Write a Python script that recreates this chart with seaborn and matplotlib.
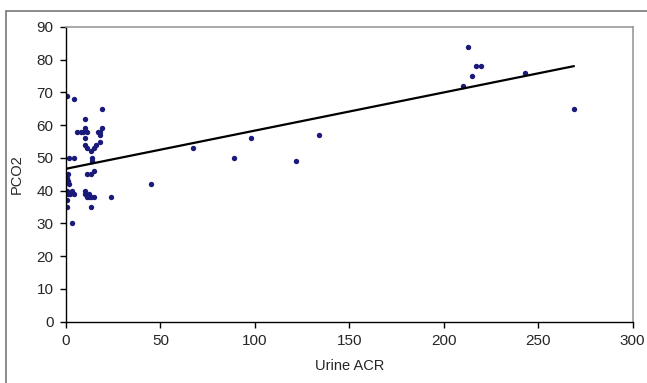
import matplotlib
matplotlib.use("Agg")
import matplotlib.pyplot as plt
import seaborn as sns
import numpy as np
import pandas as pd
from matplotlib.patches import Rectangle

# Data
urine_acr = [0.5, 4, 0.5, 1, 1, 1.5, 0.5, 1, 2, 0.5, 0.5, 3, 1.5, 4, 4, 3,
             10, 6, 8, 9, 10, 11, 10, 10, 11, 13, 15, 16, 18, 18, 18, 17, 19,
             14, 14, 11, 13, 15, 10, 10, 11, 12, 13, 15, 12, 24, 13, 19,
             45, 67, 89, 98, 122, 134,
             210, 213, 215, 217, 220, 243, 269]
pco2 = [69, 68, 44, 45, 43, 42, 40, 39, 39, 37, 35, 30, 50, 50, 39, 40,
        62, 58, 58, 58, 59, 58, 56, 54, 53, 52, 53, 54, 55, 57, 58, 58, 59,
        50, 49, 45, 45, 46, 40, 39, 38, 38, 38, 38, 39, 38, 35, 65,
        42, 53, 50, 56, 49, 57,
        72, 84, 75, 78, 78, 76, 65]

x_ticks = [0, 50, 100, 150, 200, 250, 300]
y_ticks = [0, 10, 20, 30, 40, 50, 60, 70, 80, 90]

df = pd.DataFrame({"Urine ACR": urine_acr, "PCO2": pco2})

sns.set_style("white")
plt.rcParams["font.family"] = ["Liberation Sans", "DejaVu Sans"]

fig = plt.figure(figsize=(6.47, 3.83), dpi=100)
ax = fig.add_axes([66 / 647, 1 - 321.5 / 383, (632.5 - 66) / 647, (321.5 - 27) / 383])

sns.regplot(data=df, x="Urine ACR", y="PCO2", ax=ax, ci=None, truncate=True,
            scatter_kws=dict(marker="D", s=15, color="#1a1a7a", linewidths=0, alpha=1),
            line_kws=dict(color="black", linewidth=1.6))

ax.set_xlim(0, 300)
ax.set_ylim(0, 90)
ax.set_xticks(x_ticks)
ax.set_yticks(y_ticks)
ax.tick_params(axis="both", direction="out", length=4, width=1, color="black",
               labelsize=11, pad=5, bottom=True, left=True)
for s in ["left", "bottom"]:
    ax.spines[s].set_color("black")
    ax.spines[s].set_linewidth(1)
for s in ["top", "right"]:
    ax.spines[s].set_color("#999999")
    ax.spines[s].set_linewidth(1.2)
ax.set_xlabel("Urine ACR", fontsize=10.5, labelpad=8)
ax.set_ylabel("PCO2", fontsize=10.5, labelpad=9)
ax.grid(False)

fig.add_artist(Rectangle((6 / 647, -0.05), 1.0, 1 - 11 / 383 + 0.05,
                         transform=fig.transFigure, fill=False,
                         edgecolor="#777777", linewidth=1.2))

fig.savefig("out.png", dpi=100)
